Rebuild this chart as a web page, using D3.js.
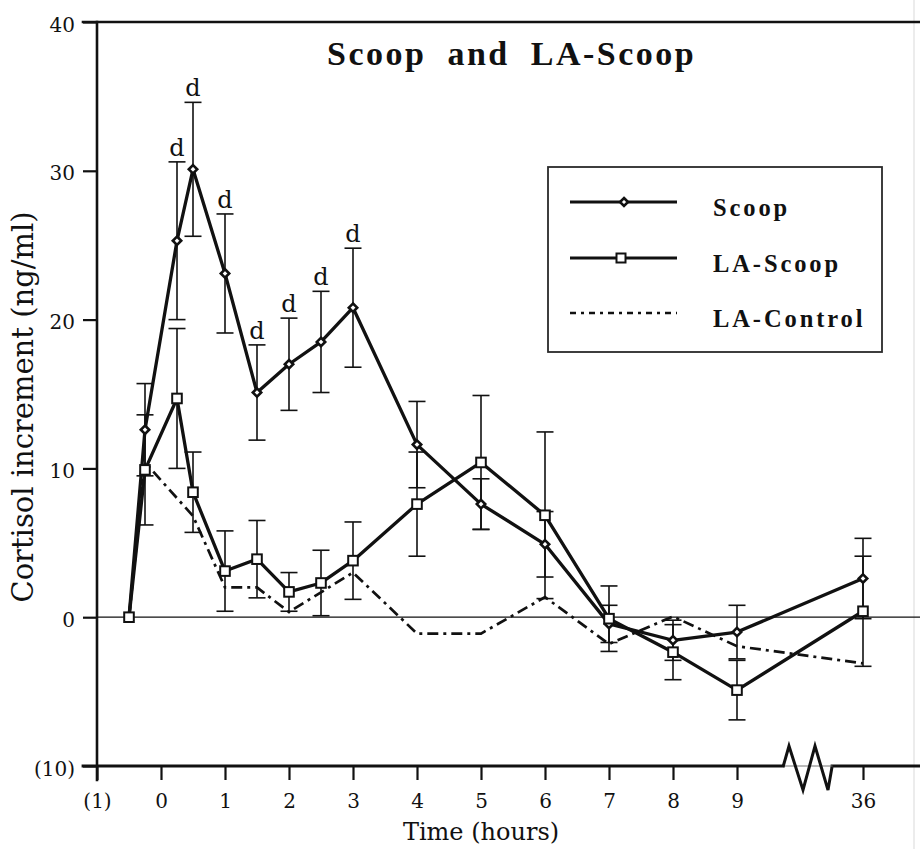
<!DOCTYPE html>
<html>
<head>
<meta charset="utf-8">
<script src="https://cdn.jsdelivr.net/npm/d3@7"></script>
<style>
  html, body { margin: 0; padding: 0; background: #fff; }
  svg { display: block; }
</style>
</head>
<body>
<svg id="chart" width="920" height="849"></svg>
<script>
// Sampling times (hours); -0.5 is the pre-treatment baseline
const times = [-0.5, -0.25, 0.25, 0.5, 1, 1.5, 2, 2.5, 3, 4, 5, 6, 7, 8, 9, 36];

// Scoop group: mean cortisol increment and standard error
const scoopMean = [0, 12.6, 25.3, 30.1, 23.1, 15.1, 17.0, 18.5, 20.8, 11.6, 7.6, 4.9, -0.45, -1.55, -1.0, 2.6];
const scoopSE   = [0, 3.1, 5.3, 4.5, 4.0, 3.2, 3.1, 3.4, 4.0, 2.9, 1.7, 2.2, 1.25, 1.35, 1.8, 2.7];
const scoopSig  = ["", "", "d", "d", "d", "d", "d", "d", "d", "", "", "", "", "", "", ""];

// LA-Scoop group
const laScoopMean = [0, 9.9, 14.7, 8.4, 3.1, 3.9, 1.7, 2.3, 3.8, 7.6, 10.4, 6.85, -0.1, -2.35, -4.9, 0.4];
const laScoopSE   = [0, 3.7, 4.7, 2.7, 2.7, 2.6, 1.3, 2.2, 2.6, 3.5, 4.5, 5.6, 2.2, 1.85, 2.0, 3.7];

// LA-Control group (means only)
const controlTimes = [-0.5, -0.25, 0.5, 1, 1.5, 2, 3, 4, 5, 6, 7, 8, 9, 36];
const controlMean  = [0, 10.4, 6.8, 2.0, 2.0, 0.35, 3.0, -1.1, -1.1, 1.35, -1.8, 0.05, -1.95, -3.1];

// Axis ticks
const xTickValues = [-1, 0, 1, 2, 3, 4, 5, 6, 7, 8, 9, 36];
const xTickLabels = ["(1)", "0", "1", "2", "3", "4", "5", "6", "7", "8", "9", "36"];
const yTickValues = [-10, 0, 10, 20, 30, 40];
const yTickLabels = ["(10)", "0", "10", "20", "30", "40"];

const seriesNames = ["Scoop", "LA-Scoop", "LA-Control"];

const svg = d3.select("#chart");
const INK = "#111";
const serif = "'DejaVu Serif', serif";
const timesFont = "'Liberation Serif', 'Times New Roman', serif";

// Piecewise time scale: hourly spacing up to 9 h, then a compressed jump to 36 h
const x = d3.scaleLinear().domain([-1, 9, 36]).range([97, 737, 863]);
const y = d3.scaleLinear().domain([-10, 40]).range([766, 22]);

const x0 = x(-1), xRight = 920, yTop = y(40), yBot = y(-10);
const tickLen = 14;

// Faint right edge of the frame
svg.append("line")
  .attr("x1", 914).attr("x2", 914).attr("y1", 0).attr("y2", 849)
  .attr("stroke", "#ececec").attr("stroke-width", 2);

// X axis ticks and labels
const gx = svg.append("g")
  .attr("transform", `translate(0,${yBot})`)
  .call(d3.axisBottom(x).tickValues(xTickValues)
    .tickFormat((d, i) => xTickLabels[i]).tickSize(tickLen).tickPadding(14));
gx.select(".domain").remove();
gx.selectAll(".tick line").attr("stroke", INK).attr("stroke-width", 2.2);
gx.selectAll(".tick text").attr("fill", INK)
  .style("font-family", serif).style("font-size", "20px");

// Y axis ticks and labels
const gy = svg.append("g")
  .attr("transform", `translate(${x0},0)`)
  .call(d3.axisLeft(y).tickValues(yTickValues)
    .tickFormat((d, i) => yTickLabels[i]).tickSize(tickLen).tickPadding(8));
gy.select(".domain").remove();
gy.selectAll(".tick line").attr("stroke", INK).attr("stroke-width", 2.2);
gy.selectAll(".tick text").attr("fill", INK).attr("dy", "0.45em")
  .style("font-family", serif).style("font-size", "20px");

// Frame lines: left axis, top edge, bottom axis with a scale break
const frame = svg.append("g").attr("stroke", INK).attr("fill", "none")
  .attr("stroke-linecap", "square");
frame.append("line").attr("x1", x0).attr("x2", x0)
  .attr("y1", yTop).attr("y2", yBot + tickLen).attr("stroke-width", 2.6);
frame.append("line").attr("x1", x0 - tickLen).attr("x2", xRight)
  .attr("y1", yTop).attr("y2", yTop).attr("stroke-width", 2.6);

const brkA = x(9) + 46, brkB = brkA + 49;
frame.append("line").attr("x1", x0 - tickLen).attr("x2", brkA)
  .attr("y1", yBot).attr("y2", yBot).attr("stroke-width", 2.8);
frame.append("line").attr("x1", brkB).attr("x2", xRight)
  .attr("y1", yBot).attr("y2", yBot).attr("stroke-width", 2.8);
frame.append("line").attr("x1", brkA).attr("x2", brkB)
  .attr("y1", yBot).attr("y2", yBot).attr("stroke-width", 1).attr("stroke", "#777");
const zig = [[0, 1], [6, -20], [20, 24], [32, -20], [45, 24], [49, 1]]
  .map(([dx, dy]) => [brkA + dx, yBot + dy]);
frame.append("path").attr("d", d3.line()(zig))
  .attr("stroke-width", 3).attr("stroke-linejoin", "miter").attr("stroke-linecap", "butt");

// Zero reference line
svg.append("line")
  .attr("x1", x0).attr("x2", xRight).attr("y1", y(0)).attr("y2", y(0))
  .attr("stroke", INK).attr("stroke-width", 1.2);

// Data tables built from the arrays
const scoop = times.map((t, i) => ({ t, m: scoopMean[i], se: scoopSE[i], sig: scoopSig[i] }));
const laScoop = times.map((t, i) => ({ t, m: laScoopMean[i], se: laScoopSE[i] }));
const control = controlTimes.map((t, i) => ({ t, m: controlMean[i] }));

const line = d3.line().x(d => x(d.t)).y(d => y(d.m));
const dashDot = "11,5,3,5";

// LA-Control dash-dot line
svg.append("path").datum(control)
  .attr("d", line).attr("fill", "none").attr("stroke", INK)
  .attr("stroke-width", 2.7).attr("stroke-dasharray", dashDot);

// Error bars (±SE) with caps
function errorBars(data) {
  const g = svg.append("g").attr("stroke", INK).attr("stroke-width", 1.6);
  const pts = data.filter(d => d.se > 0);
  g.selectAll("line.v").data(pts).join("line").attr("class", "v")
    .attr("x1", d => x(d.t)).attr("x2", d => x(d.t))
    .attr("y1", d => y(d.m - d.se)).attr("y2", d => y(d.m + d.se));
  [1, -1].forEach(s => {
    g.selectAll(`line.c${s}`).data(pts).join("line").attr("class", `c${s}`)
      .attr("x1", d => x(d.t) - 8.5).attr("x2", d => x(d.t) + 8.5)
      .attr("y1", d => y(d.m + s * d.se)).attr("y2", d => y(d.m + s * d.se));
  });
}
errorBars(scoop);
errorBars(laScoop);

// Solid series lines
[scoop, laScoop].forEach(data => {
  svg.append("path").datum(data)
    .attr("d", line).attr("fill", "none").attr("stroke", INK)
    .attr("stroke-width", 3.3).attr("stroke-linejoin", "round");
});

// Significance labels above the Scoop error bars
svg.append("g").selectAll("text").data(scoop.filter(d => d.sig))
  .join("text")
  .attr("x", d => x(d.t)).attr("y", d => y(d.m + d.se) - 6)
  .attr("text-anchor", "middle").attr("fill", INK)
  .style("font-family", serif).style("font-size", "24px")
  .text(d => d.sig);

// Markers
const diamond = (cx, cy, r) => `M${cx},${cy - r}L${cx + r},${cy}L${cx},${cy + r}L${cx - r},${cy}Z`;
svg.append("g").selectAll("path").data(scoop.slice(1)).join("path")
  .attr("d", d => diamond(x(d.t), y(d.m), 4.2))
  .attr("fill", "#fff").attr("stroke", INK).attr("stroke-width", 2.6);
svg.append("g").selectAll("rect").data(laScoop).join("rect")
  .attr("x", d => x(d.t) - 4.8).attr("y", d => y(d.m) - 4.8)
  .attr("width", 9.6).attr("height", 9.6)
  .attr("fill", "#fff").attr("stroke", INK).attr("stroke-width", 2);

// Title
svg.append("text")
  .attr("x", 327).attr("y", 65)
  .attr("fill", INK)
  .style("font-family", timesFont).style("font-size", "34px")
  .style("font-weight", "bold").style("letter-spacing", "2.5px").style("word-spacing", "10px")
  .text("Scoop and LA-Scoop");

// Legend
const lg = svg.append("g");
lg.append("rect").attr("x", 548).attr("y", 167).attr("width", 334).attr("height", 185)
  .attr("fill", "#fff").attr("stroke", "#2a2a2a").attr("stroke-width", 1.8);
const rowsY = [202, 258, 313];
seriesNames.forEach((name, i) => {
  const ry = rowsY[i];
  lg.append("line").attr("x1", 570).attr("x2", 677).attr("y1", ry).attr("y2", ry)
    .attr("stroke", INK).attr("stroke-width", i === 2 ? 2.4 : 2.8)
    .attr("stroke-dasharray", i === 2 ? "6,5,3,5" : null);
  if (i === 0) {
    lg.append("path").attr("d", diamond(624, ry, 4))
      .attr("fill", "#fff").attr("stroke", INK).attr("stroke-width", 2.6);
  } else if (i === 1) {
    lg.append("rect").attr("x", 621 - 4.5).attr("y", ry - 4.5).attr("width", 9).attr("height", 9)
      .attr("fill", "#fff").attr("stroke", INK).attr("stroke-width", 2);
  }
  lg.append("text").attr("x", 713).attr("y", ry + 14).attr("fill", INK)
    .style("font-family", timesFont).style("font-size", "24.5px")
    .style("font-weight", "bold").style("letter-spacing", "2.9px")
    .text(name);
});

// Axis titles
svg.append("text")
  .attr("x", x(5)).attr("y", 840)
  .attr("text-anchor", "middle").attr("fill", INK)
  .style("font-family", serif).style("font-size", "24px")
  .text("Time (hours)");
svg.append("text")
  .attr("transform", `translate(33,${(yTop + yBot) / 2 + 13}) rotate(-90)`)
  .attr("text-anchor", "middle").attr("fill", INK)
  .style("font-family", serif).style("font-size", "29px")
  .text("Cortisol increment (ng/ml)");
</script>
</body>
</html>
